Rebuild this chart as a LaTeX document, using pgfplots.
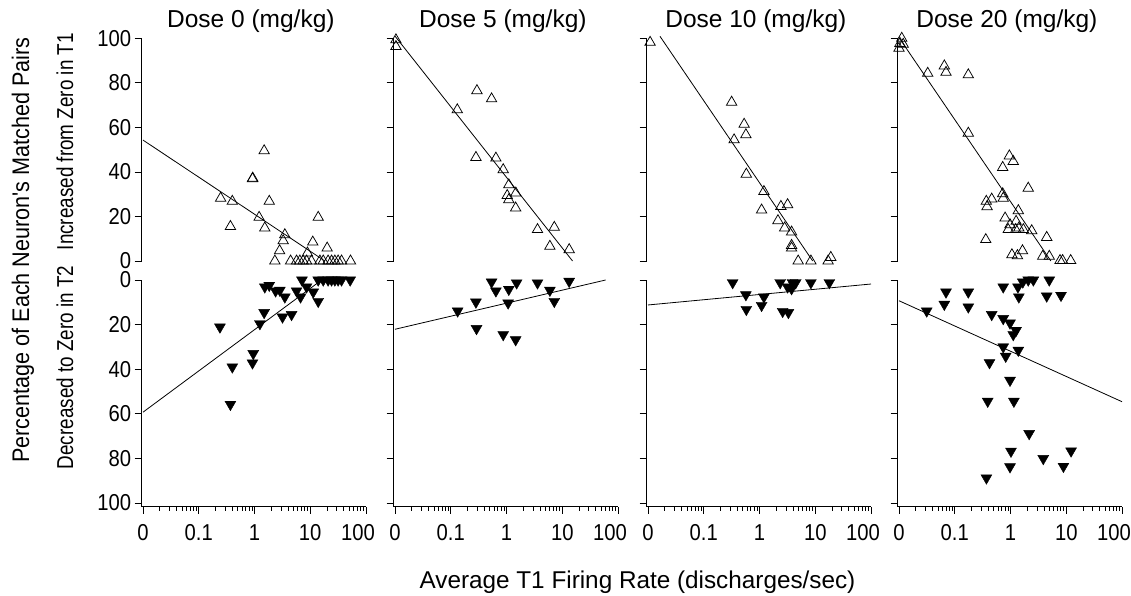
\documentclass[border=0pt]{standalone}
\usepackage{fontspec}
\setmainfont{Liberation Sans}
\newfontfamily\tickfam[FakeStretch=0.88]{Liberation Sans}
\newfontfamily\innerfam[FakeStretch=0.82]{Liberation Sans}
\newfontfamily\outerfam[FakeStretch=0.9]{Liberation Sans}
\usepackage{pgfplots}
\pgfplotsset{compat=1.18}
\pgfkeys{/pgf/number format/assume math mode=true}

\pgfplotsset{
  every axis/.append style={
    scale only axis, width=224.3pt,
    xmin=0.00948, xmax=100,
    clip=false, tick align=outside,
    major tick length=7pt, minor tick length=4pt,
    axis line style={black, line width=0.8pt},
    tick style={black, line width=0.8pt},
    tick label style={font=\tickfam\fontsize{23}{26}\selectfont},
    ytick={0,20,40,60,80,100},
  },
  toppanelstyle/.style={height=222.7pt, ymin=0, ymax=100,
    axis x line=none, axis y line*=left,
    title style={at={(0.5,1)}, anchor=base, yshift=5pt, xshift=-3pt,
      font=\fontsize{24.5}{28}\selectfont},
  },
  botpanelstyle/.style={height=226.7pt, ymin=0, ymax=101.7, y dir=reverse,
    axis x line*=bottom, axis y line*=left,
    xtick={0.01,0.1,1,10,100}, xticklabels={0,0.1,1,10,\hspace*{-16pt}100},
    minor xtick={0.02,0.03,0.04,0.05,0.06,0.07,0.08,0.09,
      0.2,0.3,0.4,0.5,0.6,0.7,0.8,0.9,2,3,4,5,6,7,8,9,
      20,30,40,50,60,70,80,90},
    xticklabel style={yshift=-7pt},
  },
  upmk/.style={only marks, mark=triangle, mark size=6pt,
    mark options={black, line width=0.75pt, fill=white}},
  dnmk/.style={only marks, mark=triangle*, mark size=6.3pt,
    mark options={black, fill=black, rotate=180}},
  fitln/.style={black, line width=0.8pt, no marks},
}

\begin{document}
\begin{tikzpicture}
\useasboundingbox (0pt,0pt) rectangle (1131pt,595pt);

% ---------- Dose 0 ----------
\begin{semilogxaxis}[toppanelstyle, at={(141.7pt,334pt)}, anchor=south west, title={Dose 0 (mg/kg)}]
\addplot[fitln] coordinates {(0.01,54.3) (18.3,0)};
\addplot[upmk] coordinates {(0.247,28.2) (0.40,26.8) (0.37,15.5) (0.92,36.9) (0.93,37.2)
 (1.49,49.5) (1.84,26.8) (1.21,19.6) (1.53,14.8) (3.5,11.8) (3.27,9.1) (2.82,4.6)
 (13.9,19.6) (11.1,8.5) (20.1,5.8) (8.9,3.6)
 (2.32,0) (4.44,0) (5.68,0) (6.51,0) (7.46,0) (8.59,0) (10.5,0) (14.9,0) (17.1,0)
 (20.9,0) (24.1,0) (27.6,0) (31.6,0) (36.4,0) (52.7,0)};
\end{semilogxaxis}
\begin{semilogxaxis}[botpanelstyle, at={(141.7pt,315pt)}, anchor=north west]
\addplot[fitln] coordinates {(0.01,59.3) (16,0)};
\addplot[dnmk] coordinates {(0.24,21.1) (0.40,39.0) (0.37,55.8) (0.95,33.0) (0.92,37.2)
 (1.25,19.6) (1.49,14.6) (1.53,3.1) (1.84,2.4) (2.39,4.9) (2.85,4.6) (3.5,7.6)
 (3.18,16.6) (4.62,15.5) (5.68,4.9) (6.7,7.6) (7.1,0) (8.59,3.1) (11.3,5.4) (13.9,9.6)
 (13.9,0) (17.1,0) (20.9,0) (24.1,0) (27.6,0) (31.6,0) (36.4,0) (52,0)};
\end{semilogxaxis}

% ---------- Dose 5 ----------
\begin{semilogxaxis}[toppanelstyle, at={(393.7pt,334pt)}, anchor=south west, title={Dose 5 (mg/kg)}, yticklabels={}]
\addplot[fitln] coordinates {(0.01,101) (15.3,0)};
\addplot[upmk] coordinates {(0.0104,99.3) (0.0104,96.3) (0.131,67.9) (0.295,76.5) (0.54,72.8)
 (0.283,46.5) (0.645,46.2) (0.873,41.0) (1.10,34.2) (1.47,30.5) (1.03,29.4) (1.10,27.5)
 (1.46,23.8) (3.6,14.1) (7.2,15.1) (6.0,6.6) (13.3,5.1)};
\end{semilogxaxis}
\begin{semilogxaxis}[botpanelstyle, at={(393.7pt,315pt)}, anchor=north west, yticklabels={}]
\addplot[fitln] coordinates {(0.01,22.1) (60,0)};
\addplot[dnmk] coordinates {(0.133,13.9) (0.283,9.9) (0.29,21.8) (0.54,0.9) (0.645,4.9)
 (1.10,4.2) (1.52,1.3) (1.07,10.3) (0.873,24.5) (1.46,26.8) (3.6,1.3) (6.0,4.6)
 (7.2,9.6) (13.3,0.6)};
\end{semilogxaxis}

% ---------- Dose 10 ----------
\begin{semilogxaxis}[toppanelstyle, at={(646.7pt,334pt)}, anchor=south west, title={Dose 10 (mg/kg)}, yticklabels={}]
\addplot[fitln] coordinates {(0.0164,100.9) (9.0,0)};
\addplot[upmk] coordinates {(0.0109,98.2) (0.316,71.3) (0.53,61.4) (0.57,56.7) (0.35,54.4)
 (0.58,39.0) (1.20,31.2) (1.09,22.9) (2.42,24.5) (3.19,25.3) (2.14,18.1) (2.82,14.8)
 (3.76,13.0) (3.76,7.0) (3.76,5.8) (4.94,0) (8.35,0) (17.0,0) (19.0,1.6)};
\end{semilogxaxis}
\begin{semilogxaxis}[botpanelstyle, at={(646.7pt,315pt)}, anchor=north west, yticklabels={}]
\addplot[fitln] coordinates {(0.01,11.2) (100,1.8)};
\addplot[dnmk] coordinates {(0.33,1.2) (0.57,6.6) (0.58,13.2) (1.20,7.6) (1.09,11.4)
 (2.35,1.2) (2.6,14.1) (3.3,14.6) (3.19,3.1) (3.76,3.9) (4.46,1.2) (8.35,1.2)
 (17.9,1.2) (3.9,1.2)};
\end{semilogxaxis}

% ---------- Dose 20 ----------
\begin{semilogxaxis}[toppanelstyle, at={(897.7pt,334pt)}, anchor=south west, title={Dose 20 (mg/kg)}, yticklabels={}]
\addplot[fitln] coordinates {(0.01,100.3) (5.3,0)};
\addplot[upmk] coordinates {(0.0112,100) (0.0104,97.7) (0.0119,97.3) (0.01,95.5) (0.0327,84.3)
 (0.065,87.6) (0.0697,84.7) (0.175,83.6) (0.175,57.4) (0.953,47.2) (1.12,44.7)
 (0.724,42.0) (2.08,32.7) (0.724,30.2) (0.74,28.2) (0.368,26.8) (0.46,27.8) (0.38,24.4)
 (1.38,22.6) (0.80,19.3) (0.98,16.3) (0.91,14.1) (1.26,17.8) (1.41,14.8) (1.24,14.1)
 (1.7,14.1) (2.4,13.6) (4.46,10.6) (0.36,9.6) (1.06,2.8) (1.33,2.4) (1.64,4.6)
 (3.78,2.1) (4.96,2.1) (7.73,0.2) (8.6,0.2) (12.0,0.2)};
\end{semilogxaxis}
\begin{semilogxaxis}[botpanelstyle, at={(897.7pt,315pt)}, anchor=north west, yticklabels={}]
\addplot[fitln] coordinates {(0.01,9.3) (100,54.6)};
\addplot[dnmk] coordinates {(0.0314,13.9) (0.0697,5.4) (0.065,10.9) (0.175,5.4) (0.175,12.1)
 (0.74,3.1) (1.36,3.1) (1.41,7.6) (1.66,0.9) (2.08,0) (2.57,0) (4.96,0) (4.46,7.2)
 (8.05,6.9) (0.46,15.5) (0.74,17.3) (0.98,19.3) (1.26,22.6) (1.12,24.5) (0.74,30.0)
 (0.82,34.2) (1.38,31.5) (0.42,37.1) (0.98,45.0) (0.39,54.4) (1.15,54.4) (2.16,68.9)
 (1.02,76.8) (0.98,83.8) (3.87,80.1) (12.2,76.7) (8.9,83.6) (0.37,88.8)};
\end{semilogxaxis}

% ---------- labels ----------
\node[anchor=base, font=\fontsize{24.3}{28}\selectfont] at (637.5pt,7pt)
  {Average T1 Firing Rate (discharges/sec)};
\node[rotate=90, font=\outerfam\fontsize{24}{28}\selectfont] at (23pt,345pt)
  {Percentage of Each Neuron's Matched Pairs};
\node[rotate=90, font=\innerfam\fontsize{23}{26}\selectfont] at (65pt,453.3pt)
  {Increased from Zero in T1};
\node[rotate=90, font=\innerfam\fontsize{23}{26}\selectfont] at (65pt,227.5pt)
  {Decreased to Zero in T2};
\end{tikzpicture}
\end{document}
